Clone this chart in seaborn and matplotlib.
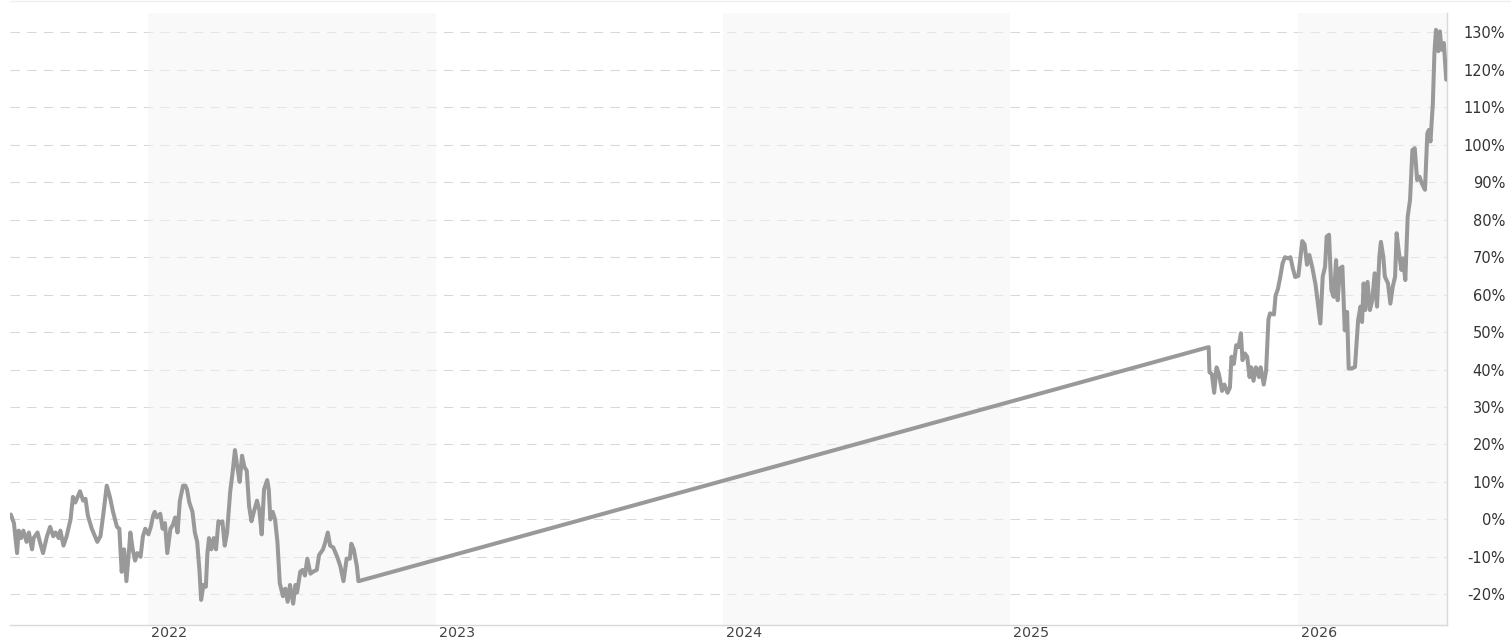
import matplotlib
matplotlib.use("Agg")
import matplotlib.pyplot as plt
import matplotlib.dates as mdates
import matplotlib.transforms as mtransforms
from matplotlib.ticker import FixedLocator, FuncFormatter
import seaborn as sns
import pandas as pd

# ---- data ----
dates_2021_22 = [
    "2021-07-10", "2021-07-14", "2021-07-18", "2021-07-20", "2021-07-23", "2021-07-26",
    "2021-07-30", "2021-08-02", "2021-08-06", "2021-08-08", "2021-08-13", "2021-08-16",
    "2021-08-20", "2021-08-25", "2021-08-29", "2021-09-02", "2021-09-05", "2021-09-09",
    "2021-09-11", "2021-09-15", "2021-09-19", "2021-09-24", "2021-09-27", "2021-09-30",
    "2021-10-03", "2021-10-06", "2021-10-10", "2021-10-13", "2021-10-16", "2021-10-21",
    "2021-10-28", "2021-11-01", "2021-11-05", "2021-11-09", "2021-11-13", "2021-11-17",
    "2021-11-22", "2021-11-25", "2021-11-28", "2021-12-01", "2021-12-04", "2021-12-07",
    "2021-12-09", "2021-12-12", "2021-12-15", "2021-12-18", "2021-12-22", "2021-12-25",
    "2021-12-28", "2022-01-01", "2022-01-04", "2022-01-07", "2022-01-09", "2022-01-12",
    "2022-01-16", "2022-01-19", "2022-01-22", "2022-01-25", "2022-01-29", "2022-02-01",
    "2022-02-04", "2022-02-07", "2022-02-10", "2022-02-14", "2022-02-17", "2022-02-19",
    "2022-02-22", "2022-02-26", "2022-03-01", "2022-03-04", "2022-03-07", "2022-03-09",
    "2022-03-12", "2022-03-15", "2022-03-17", "2022-03-19", "2022-03-22", "2022-03-25",
    "2022-03-28", "2022-03-31", "2022-04-03", "2022-04-05", "2022-04-08", "2022-04-11",
    "2022-04-15", "2022-04-18", "2022-04-21", "2022-04-24", "2022-04-27", "2022-04-30",
    "2022-05-03", "2022-05-06", "2022-05-09", "2022-05-12", "2022-05-15", "2022-05-19",
    "2022-05-22", "2022-05-25", "2022-05-28", "2022-06-01", "2022-06-03", "2022-06-05",
    "2022-06-08", "2022-06-11", "2022-06-14", "2022-06-17", "2022-06-21", "2022-06-24",
    "2022-06-27", "2022-06-30", "2022-07-04", "2022-07-07", "2022-07-09", "2022-07-13",
    "2022-07-16", "2022-07-19", "2022-07-22", "2022-07-26", "2022-07-29", "2022-08-03",
    "2022-08-06", "2022-08-11", "2022-08-14", "2022-08-17", "2022-08-20", "2022-08-24",
    "2022-08-29", "2022-09-02", "2022-09-06", "2022-09-10", "2022-09-14", "2022-09-16",
    "2022-09-19", "2022-09-23", "2022-09-25",
]
values_2021_22 = [
    1.3, -1, -9, -3, -5, -3,
    -6, -3.5, -8, -5, -3.5, -6,
    -9, -4.5, -2, -4.5, -3.5, -5,
    -3, -7, -4.5, 0, 6, 4.5,
    6, 7.5, 5, 5.5, 1, -2.5,
    -6, -4.5, 2, 9, 6, 2,
    -2, -2.5, -14, -8, -16.5, -9,
    -3.5, -8, -11, -9, -10, -4.5,
    -2.5, -4, -2, 1, 2, 0.5,
    1.5, -2.5, -1, -9, -2.5, -1.5,
    0.5, -3.5, 5, 9, 9, 8,
    4.5, 2, -3.5, -6, -14, -21.5,
    -17.5, -18, -9, -5, -8, -5,
    -8, -0.5, -1, -0.5, -7, -3.5,
    7.5, 12.5, 18.5, 14, 10, 17,
    14, 13, 3.5, -0.5, 2, 5,
    2.5, -4, 8, 10.5, 8, 0,
    2, 0, -6, -17, -20.5, -18.5,
    -22, -17.5, -22.5, -17.5, -19.5, -14,
    -13.5, -15, -10.5, -14.5, -14, -13.5,
    -9.5, -8, -6, -3.5, -7, -7.5,
    -10, -12.5, -16.5, -10.5, -10.5, -6.5,
    -8, -12.5, -16.5,
]

dates_2025_26 = [
    "2025-09-10", "2025-09-11", "2025-09-14", "2025-09-17", "2025-09-20", "2025-09-23",
    "2025-09-27", "2025-09-30", "2025-10-04", "2025-10-07", "2025-10-09", "2025-10-12",
    "2025-10-15", "2025-10-18", "2025-10-21", "2025-10-23", "2025-10-26", "2025-10-29",
    "2025-11-01", "2025-11-03", "2025-11-06", "2025-11-09", "2025-11-13", "2025-11-15",
    "2025-11-19", "2025-11-22", "2025-11-25", "2025-11-27", "2025-12-02", "2025-12-04",
    "2025-12-07", "2025-12-10", "2025-12-13", "2025-12-16", "2025-12-20", "2025-12-23",
    "2025-12-26", "2025-12-29", "2026-01-02", "2026-01-05", "2026-01-07", "2026-01-10",
    "2026-01-13", "2026-01-16", "2026-01-20", "2026-01-24", "2026-01-30", "2026-02-02",
    "2026-02-05", "2026-02-07", "2026-02-10", "2026-02-13", "2026-02-16", "2026-02-19",
    "2026-02-21", "2026-02-24", "2026-02-27", "2026-03-02", "2026-03-05", "2026-03-07",
    "2026-03-11", "2026-03-15", "2026-03-19", "2026-03-22", "2026-03-24", "2026-03-26",
    "2026-03-28", "2026-03-31", "2026-04-03", "2026-04-06", "2026-04-09", "2026-04-12",
    "2026-04-15", "2026-04-17", "2026-04-20", "2026-04-22", "2026-04-26", "2026-04-29",
    "2026-05-02", "2026-05-05", "2026-05-07", "2026-05-10", "2026-05-13", "2026-05-15",
    "2026-05-18", "2026-05-21", "2026-05-24", "2026-05-27", "2026-05-30", "2026-06-02",
    "2026-06-05", "2026-06-08", "2026-06-12", "2026-06-15", "2026-06-17", "2026-06-19",
    "2026-06-22", "2026-06-24", "2026-06-26", "2026-06-29", "2026-07-01", "2026-07-03",
    "2026-07-06", "2026-07-09",
]
values_2025_26 = [
    46, 39.3, 38.8, 33.8, 40.6, 38.8,
    34.3, 36, 33.8, 35.2, 43.4, 41.5,
    46.5, 46, 49.7, 42.5, 44.3, 43.4,
    38, 40.6, 37, 40.6, 38, 40.6,
    36, 39.7, 53.4, 55, 54.7, 59.7,
    61.5, 64.7, 68.4, 70, 69.7, 70,
    67, 64.7, 65, 70.6, 74.3, 73.4,
    68, 70.6, 67, 62.5, 52.3, 64.8,
    67.5, 75.5, 76, 61.2, 59.4, 69.2,
    58.5, 67, 67.5, 50.5, 55.4, 40.3,
    40.3, 40.7, 53.2, 56.8, 52.7, 63,
    55.9, 63.4, 55.9, 58.5, 65.7, 56.8,
    70.1, 74.1, 70.1, 64.8, 63, 57.6,
    62.1, 64.8, 76.4, 71, 66.6, 69.7,
    63.9, 80.8, 85.3, 98.6, 99.1, 90.6,
    91.5, 89.7, 88, 103.1, 104, 100.9,
    111.1, 124.5, 130.7, 125, 130.3, 125.4,
    127.2, 117.4,
]

year_ticks = ["2022-01-01", "2023-01-01", "2024-01-01", "2025-01-01", "2026-01-01"]
year_labels = ["2022", "2023", "2024", "2025", "2026"]
shaded_years = [("2022-01-01", "2023-01-01"), ("2024-01-01", "2025-01-01"),
                ("2026-01-01", "2027-01-01")]
y_ticks = list(range(-20, 131, 10))

df = pd.DataFrame({
    "date": pd.to_datetime(dates_2021_22 + dates_2025_26),
    "value": values_2021_22 + values_2025_26,
})

# ---- figure ----
sns.set_style("white")
plt.rcParams["font.family"] = ["DejaVu Sans"]

W, H, DPI = 1511, 639, 100
fig = plt.figure(figsize=(W / DPI, H / DPI), dpi=DPI)
left, right, top, bottom = 10, 1447, 13, 625
ax = fig.add_axes([left / W, 1 - bottom / H, (right - left) / W, (bottom - top) / H])
ax.set_facecolor("white")

# grid lines
for v in y_ticks:
    ax.axhline(v, color="#d8d8d8", lw=0.75, ls=(0, (9, 7)), zorder=1)

# alternating year bands (drawn above the grid, semi-transparent)
for a, b in shaded_years:
    ax.axvspan(pd.Timestamp(a), pd.Timestamp(b), color="#f4f4f4", alpha=0.5,
               lw=0, zorder=2)

sns.lineplot(data=df, x="date", y="value", ax=ax, color="#999999", lw=2.9,
             estimator=None, sort=True, zorder=5)

ax.set_xlim(pd.Timestamp("2021-07-09"), pd.Timestamp("2026-07-10"))
ax.set_ylim(-28.2, 135.2)

ax.set_xlabel("")
ax.set_ylabel("")

# x axis
ax.xaxis.set_major_locator(FixedLocator(mdates.date2num(pd.to_datetime(year_ticks))))
ax.set_xticklabels(year_labels)
ax.tick_params(axis="x", length=0, pad=0.8, labelsize=10.3, labelcolor="#444444")
offset = mtransforms.ScaledTranslation(3 / DPI, 0, fig.dpi_scale_trans)
for lab in ax.get_xticklabels():
    lab.set_ha("left")
    lab.set_transform(lab.get_transform() + offset)

# y axis on right
ax.yaxis.tick_right()
ax.yaxis.set_major_locator(FixedLocator(y_ticks))
ax.yaxis.set_major_formatter(FuncFormatter(lambda v, p: f"{v:.0f}%"))
ax.tick_params(axis="y", length=0, pad=41.8, labelsize=10.5, labelcolor="#333333")
for lab in ax.get_yticklabels():
    lab.set_ha("right")

for s in ["top", "left"]:
    ax.spines[s].set_visible(False)
ax.spines["bottom"].set_color("#d9d9d9")
ax.spines["bottom"].set_linewidth(1.0)
ax.spines["right"].set_color("#d9d9d9")
ax.spines["right"].set_linewidth(1.0)

# faint top border line of the chart frame
fig.add_artist(plt.Line2D([left / W, 1], [1 - 0.8 / H, 1 - 0.8 / H],
                          color="#efefef", lw=1.0, transform=fig.transFigure))

fig.savefig("out.png", dpi=DPI)
